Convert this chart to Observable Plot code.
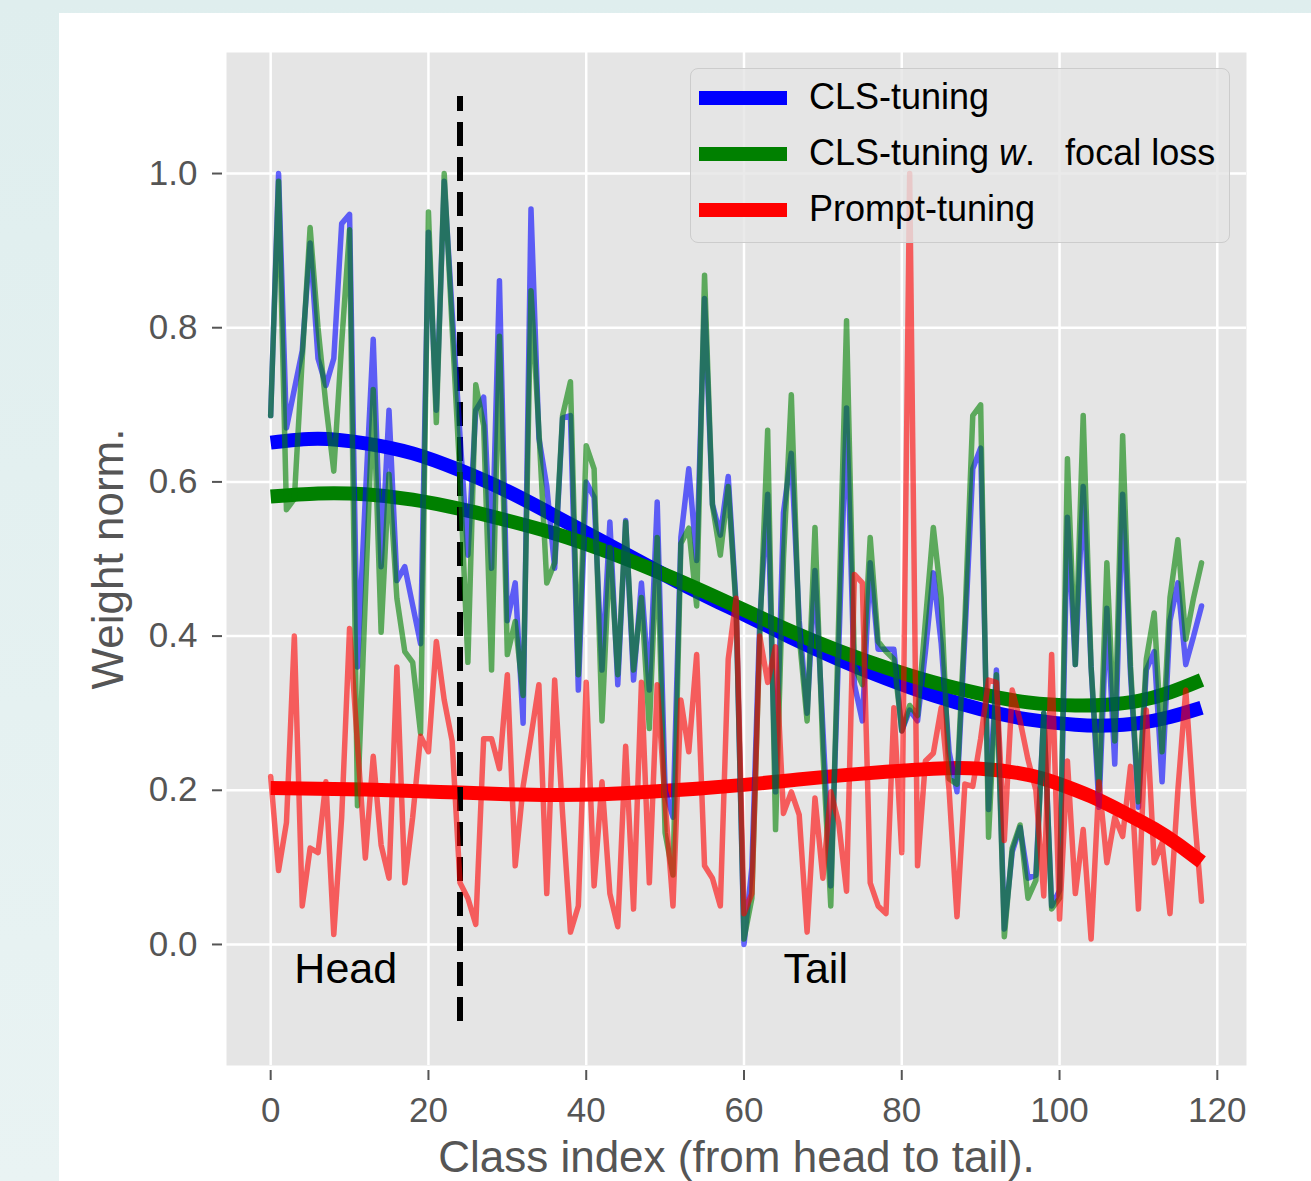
<!DOCTYPE html>
<html><head><meta charset="utf-8">
<script src="https://cdn.jsdelivr.net/npm/d3@7"></script>
<script src="https://cdn.jsdelivr.net/npm/@observablehq/plot@0.6"></script>
<style>
body{margin:0;background:linear-gradient(#dfeeee,#e9f3f3);font-family:"Liberation Sans",Arial,Helvetica,sans-serif;}
#wrap{position:relative;width:1311px;height:1181px;overflow:hidden}
#panel{position:absolute;left:59px;top:13px;right:0;bottom:0;background:#fff}
#chart{position:absolute;left:0;top:0}
#legend{position:absolute;left:690px;top:68px;width:538px;height:173px;background:rgba(229,229,229,0.8);border:1.5px solid #cccccc;border-radius:8px;}
.sw{position:absolute;left:8px;width:88px;height:14px}
.lt{position:absolute;left:118px;font-size:36px;line-height:40px;color:#000;white-space:nowrap}
</style></head>
<body>
<div id="wrap">
  <div id="panel"></div>
  <div id="chart"></div>
  <div id="legend"></div>
</div>
<script>
// ---- data ----
const seriesNames = ["CLS-tuning", "CLS-tuning w. focal loss", "Prompt-tuning"];
const seriesColors = ["#0000ff", "#008000", "#ff0000"];

const clsTuning = [0.686,1.0,0.67,0.72,0.77,0.91,0.76,0.725,0.76,0.935,0.947,0.36,0.58,0.785,0.49,0.693,0.472,0.49,0.44,0.39,
0.924,0.693,0.99,0.82,0.66,0.505,0.693,0.71,0.488,0.861,0.42,0.469,0.287,0.954,0.657,0.594,0.488,0.683,0.686,0.33,
0.60,0.58,0.356,0.548,0.337,0.55,0.343,0.469,0.33,0.574,0.20,0.165,0.528,0.617,0.498,0.838,0.571,0.531,0.607,0.442,
0.0,0.10,0.42,0.584,0.198,0.56,0.637,0.42,0.30,0.485,0.28,0.076,0.38,0.696,0.337,0.29,0.495,0.383,0.383,0.383,
0.277,0.304,0.29,0.38,0.482,0.39,0.25,0.198,0.40,0.617,0.644,0.175,0.356,0.02,0.12,0.152,0.086,0.09,0.30,0.05,
0.07,0.554,0.363,0.594,0.36,0.178,0.436,0.234,0.584,0.35,0.178,0.356,0.38,0.211,0.42,0.469,0.363,0.40,0.439];

const clsFocal = [0.686,0.99,0.564,0.578,0.76,0.93,0.80,0.70,0.614,0.78,0.927,0.18,0.45,0.72,0.405,0.61,0.449,0.38,0.366,0.274,
0.95,0.677,1.0,0.80,0.607,0.366,0.726,0.673,0.356,0.789,0.376,0.419,0.323,0.848,0.667,0.469,0.495,0.686,0.73,0.35,
0.647,0.617,0.29,0.515,0.35,0.548,0.356,0.45,0.28,0.528,0.145,0.09,0.52,0.54,0.439,0.868,0.57,0.505,0.594,0.436,
0.007,0.06,0.40,0.667,0.149,0.50,0.713,0.40,0.29,0.541,0.25,0.05,0.42,0.809,0.36,0.337,0.528,0.393,0.38,0.37,
0.277,0.31,0.297,0.42,0.541,0.449,0.215,0.208,0.42,0.686,0.70,0.139,0.35,0.01,0.125,0.155,0.06,0.083,0.30,0.046,
0.06,0.63,0.363,0.686,0.36,0.20,0.495,0.264,0.66,0.36,0.185,0.37,0.43,0.25,0.45,0.525,0.396,0.45,0.495];

const promptTuning = [0.218,0.096,0.158,0.40,0.05,0.125,0.119,0.211,0.013,0.165,0.41,0.26,0.112,0.244,0.129,0.086,0.36,0.08,0.165,0.27,
0.25,0.393,0.317,0.264,0.08,0.06,0.026,0.267,0.267,0.228,0.35,0.102,0.205,0.27,0.337,0.066,0.343,0.17,0.016,0.05,
0.34,0.076,0.211,0.066,0.023,0.257,0.046,0.34,0.08,0.337,0.185,0.05,0.317,0.25,0.376,0.102,0.086,0.05,0.37,0.449,
0.04,0.066,0.40,0.34,0.386,0.17,0.198,0.168,0.016,0.19,0.086,0.198,0.158,0.069,0.48,0.469,0.08,0.05,0.04,0.307,
0.119,1.0,0.102,0.238,0.248,0.307,0.20,0.036,0.208,0.205,0.267,0.343,0.34,0.135,0.33,0.29,0.24,0.20,0.063,0.376,
0.033,0.238,0.066,0.149,0.007,0.211,0.106,0.165,0.14,0.231,0.046,0.304,0.106,0.132,0.04,0.20,0.33,0.18,0.056];

// smooth trend curves (sampled)
const trendIdx = [0,6,12,18,24,30,36,42,48,54,60,66,72,78,84,90,96,102,106,110,114,118];
const clsTrend = [0.651,0.656,0.650,0.637,0.615,0.588,0.556,0.523,0.490,0.458,0.428,0.398,0.370,0.345,0.323,0.305,0.292,0.285,0.284,0.287,0.295,0.307];
const focalTrend = [0.581,0.585,0.584,0.577,0.565,0.550,0.533,0.512,0.488,0.462,0.434,0.406,0.381,0.359,0.340,0.325,0.314,0.310,0.311,0.316,0.327,0.343];
const promptTrendIdx = [0,6,12,18,24,30,36,42,48,54,60,66,72,78,84,90,96,100,104,108,112,115,118];
const promptTrend = [0.203,0.202,0.201,0.199,0.197,0.195,0.194,0.195,0.198,0.202,0.207,0.213,0.219,0.224,0.228,0.228,0.220,0.208,0.192,0.172,0.150,0.130,0.107];

const xTicks = [0,20,40,60,80,100,120];
const yTicks = [0,0.2,0.4,0.6,0.8,1.0];
const divider = [{x: 24, y1: -0.1, y2: 1.1}];
const regionLabels = [{text: "Head", x: 3, y: -0.05}, {text: "Tail", x: 65, y: -0.05}];
const xLabel = "Class index (from head to tail).";
const yLabel = "Weight norm.";

// ---- build ----
const toRows = arr => arr.map((v, i) => ({i, v}));
const toTrend = (idx, arr) => idx.map((i, k) => ({i, v: arr[k]}));
const rawSets = [clsTuning, clsFocal, promptTuning].map(toRows);
const trendSets = [toTrend(trendIdx, clsTrend), toTrend(trendIdx, focalTrend), toTrend(promptTrendIdx, promptTrend)];
const FONT = '"Liberation Sans", Arial, Helvetica, sans-serif';

const chart = Plot.plot({
  width: 1311, height: 1181,
  marginLeft: 226, marginRight: 65, marginTop: 52, marginBottom: 116,
  style: {background: "transparent", fontFamily: FONT, overflow: "visible"},
  x: {domain: [-5.6, 123.7]},
  y: {domain: [-0.157, 1.157]},
  marks: [
    Plot.frame({fill: "#e5e5e5", stroke: null}),
    Plot.gridX(xTicks, {stroke: "#ffffff", strokeOpacity: 1, strokeWidth: 2.5}),
    Plot.gridY(yTicks, {stroke: "#ffffff", strokeOpacity: 1, strokeWidth: 2.5}),
    ...trendSets.map((d, k) => Plot.line(d, {x: "i", y: "v", curve: "natural", stroke: seriesColors[k], strokeWidth: 14, strokeLinecap: "butt"})),
    Plot.ruleX(divider, {x: "x", y1: "y1", y2: "y2", stroke: "#000", strokeWidth: 6, strokeDasharray: "24,11", strokeLinecap: "butt"}),
    ...rawSets.map((d, k) => Plot.line(d, {x: "i", y: "v", stroke: seriesColors[k], strokeOpacity: 0.6, strokeWidth: 5.5})),
    Plot.text(regionLabels, {x: "x", y: "y", text: "text", textAnchor: "start", lineAnchor: "bottom", fontSize: 43, fill: "#000"}),
    Plot.axisX(xTicks, {tickSize: 10, dy: 5, tickPadding: 17, fontSize: 35, color: "#555555", strokeWidth: 2, label: null}),
    Plot.axisY(yTicks, {tickSize: 10, dx: -4, tickPadding: 15, fontSize: 35, color: "#555555", strokeWidth: 2, tickFormat: d3.format(".1f"), label: null}),
    Plot.text([xLabel], {text: d => d, frameAnchor: "bottom", textAnchor: "middle", dy: 106, lineAnchor: "bottom", fontSize: 44, fill: "#555555"}),
    Plot.text([yLabel], {text: d => d, frameAnchor: "left", textAnchor: "middle", dx: -104, rotate: -90, lineAnchor: "bottom", fontSize: 44, fill: "#555555"})
  ]
});
document.getElementById("chart").appendChild(chart);

// legend
const legend = document.getElementById("legend");
const rowCenters = [29, 85, 141];
seriesNames.forEach((name, k) => {
  const sw = document.createElement("div");
  sw.className = "sw";
  sw.style.top = (rowCenters[k] - 7) + "px";
  sw.style.background = seriesColors[k];
  legend.appendChild(sw);
  const t = document.createElement("div");
  t.className = "lt";
  t.style.top = (rowCenters[k] - 21) + "px";
  if (name.includes(" w. ")) {
    const [a, b] = name.split(" w. ");
    t.append(a + " ");
    const it = document.createElement("i");
    it.textContent = "w";
    t.append(it);
    t.append(".\u00a0\u00a0 " + b);
  } else {
    t.textContent = name;
  }
  legend.appendChild(t);
});
</script>
</body></html>
